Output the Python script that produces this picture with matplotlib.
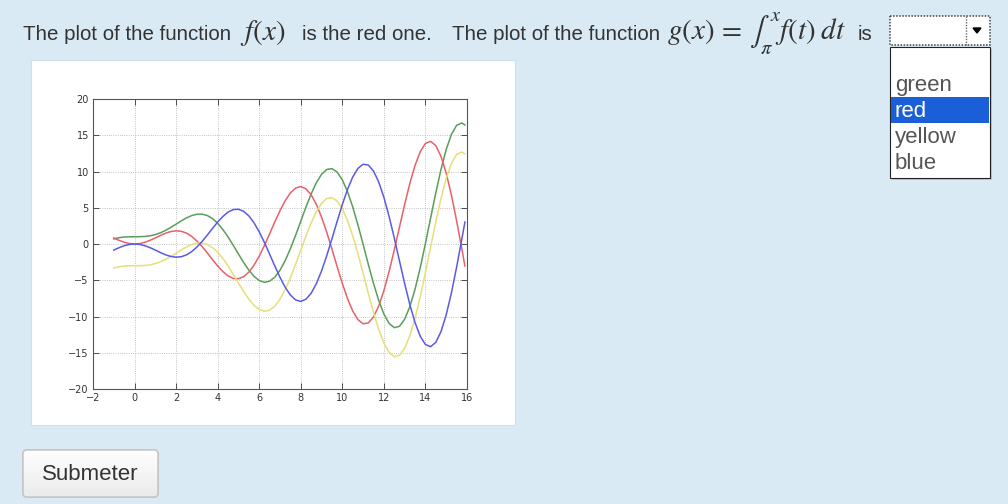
import matplotlib.pyplot as plt
from matplotlib.patches import Rectangle, FancyBboxPatch, Polygon
import numpy as np

plt.rcParams['mathtext.fontset'] = 'stix'

# valores de x
x_vals = [-1, -0.75, -0.5, -0.25, 0, 0.25, 0.5, 0.75, 1, 1.25,
          1.5, 1.75, 2, 2.25, 2.5, 2.75, 3, 3.25, 3.5, 3.75,
          4, 4.25, 4.5, 4.75, 5, 5.25, 5.5, 5.75, 6, 6.25,
          6.5, 6.75, 7, 7.25, 7.5, 7.75, 8, 8.25, 8.5, 8.75,
          9, 9.25, 9.5, 9.75, 10, 10.25, 10.5, 10.75, 11, 11.25,
          11.5, 11.75, 12, 12.25, 12.5, 12.75, 13, 13.25, 13.5, 13.75,
          14, 14.25, 14.5, 14.75, 15, 15.25, 15.5, 15.75, 15.9]

curva_roja = [0.84, 0.51, 0.24, 0.06, 0.00, 0.06, 0.24, 0.51, 0.84, 1.19,
              1.50, 1.72, 1.82, 1.75, 1.50, 1.05, 0.42, -0.35, -1.23, -2.14,
              -3.03, -3.80, -4.40, -4.75, -4.79, -4.51, -3.88, -2.92, -1.68, -0.21,
              1.40, 3.04, 4.60, 5.97, 7.04, 7.71, 7.92, 7.61, 6.79, 5.47,
              3.71, 1.61, -0.71, -3.12, -5.44, -7.53, -9.24, -10.43, -11.00, -10.89,
              -10.07, -8.56, -6.44, -3.81, -0.83, 2.33, 5.46, 8.37, 10.85, 12.73,
              13.87, 14.16, 13.56, 12.07, 9.76, 6.74, 3.20, -0.66, -3.03]

curva_verde = [0.70, 0.87, 0.96, 0.99, 1.00, 1.01, 1.04, 1.13, 1.30, 1.55,
               1.89, 2.30, 2.74, 3.19, 3.60, 3.92, 4.11, 4.12, 3.93, 3.51,
               2.86, 2.00, 0.97, -0.18, -1.38, -2.55, -3.60, -4.46, -5.04, -5.28,
               -5.13, -4.58, -3.62, -2.29, -0.66, 1.19, 3.15, 5.10, 6.92, 8.46,
               9.61, 10.28, 10.40, 9.92, 8.85, 7.22, 5.11, 2.64, -0.05, -2.80,
               -5.43, -7.78, -9.66, -10.95, -11.54, -11.35, -10.38, -8.64, -6.23, -3.27,
               0.08, 3.60, 7.08, 10.30, 13.04, 15.12, 16.37, 16.69, 16.42]

curva_amarilla = [-3.30, -3.13, -3.04, -3.01, -3.00, -2.99, -2.96, -2.87, -2.70, -2.45,
                  -2.11, -1.70, -1.26, -0.81, -0.40, -0.08, 0.11, 0.12, -0.07, -0.49,
                  -1.14, -2.00, -3.03, -4.18, -5.38, -6.55, -7.60, -8.46, -9.04, -9.28,
                  -9.13, -8.58, -7.62, -6.29, -4.66, -2.81, -0.85, 1.10, 2.92, 4.46,
                  5.61, 6.28, 6.40, 5.92, 4.85, 3.22, 1.11, -1.36, -4.05, -6.80,
                  -9.43, -11.78, -13.66, -14.95, -15.54, -15.35, -14.38, -12.64, -10.23, -7.27,
                  -3.92, -0.40, 3.08, 6.30, 9.04, 11.12, 12.37, 12.69, 12.42]

curva_azul = [-0.84, -0.51, -0.24, -0.06, 0.00, -0.06, -0.24, -0.51, -0.84, -1.19,
              -1.50, -1.72, -1.82, -1.75, -1.50, -1.05, -0.42, 0.35, 1.23, 2.14,
              3.03, 3.80, 4.40, 4.75, 4.79, 4.51, 3.88, 2.92, 1.68, 0.21,
              -1.40, -3.04, -4.60, -5.97, -7.04, -7.71, -7.92, -7.61, -6.79, -5.47,
              -3.71, -1.61, 0.71, 3.12, 5.44, 7.53, 9.24, 10.43, 11.00, 10.89,
              10.07, 8.56, 6.44, 3.81, 0.83, -2.33, -5.46, -8.37, -10.85, -12.73,
              -13.87, -14.16, -13.56, -12.07, -9.76, -6.74, -3.20, 0.66, 3.03]

opciones = ['green', 'red', 'yellow', 'blue']
xticks_vals = list(range(-2, 17, 2))
yticks_vals = list(range(-20, 21, 5))

W, H = 1008, 504
fuente = ['Liberation Sans', 'DejaVu Sans']
texto_color = '#333333'

fig = plt.figure(figsize=(W / 100, H / 100), dpi=100)
fig.patch.set_facecolor('#d9eaf5')

# capa de fondo en coordenadas de pixel (y hacia abajo)
fondo = fig.add_axes([0, 0, 1, 1], zorder=1)
fondo.set_xlim(0, W)
fondo.set_ylim(H, 0)
fondo.axis('off')

# panel blanco de la imagen
fondo.add_patch(Rectangle((31, 60), 484, 365, facecolor='white', edgecolor='#cfe0ec', lw=0.8))

# enunciado
base = 40
fondo.text(22.7, base, 'The plot of the function', fontsize=14.8, family=fuente,
           color=texto_color, va='baseline', ha='left')
fondo.text(240, base, r'$f(x)$', fontsize=21, color=texto_color, va='baseline', ha='left')
fondo.text(302, base, 'is the red one.', fontsize=14.8, family=fuente,
           color=texto_color, va='baseline', ha='left')
fondo.text(451.7, base, 'The plot of the function', fontsize=14.8, family=fuente,
           color=texto_color, va='baseline', ha='left')
fondo.text(667, base, r'$g(x)\,=\,\int_{\pi}^{x}f(t)\;dt$', fontsize=21,
           color=texto_color, va='baseline', ha='left')
fondo.text(858, base, 'is', fontsize=14.8, family=fuente,
           color=texto_color, va='baseline', ha='left')

# selector cerrado
fondo.add_patch(Rectangle((890, 16), 100, 29, facecolor='white', edgecolor='#444444',
                          lw=1.1, linestyle=(0, (1, 1))))
fondo.plot([966, 966], [16, 45], color='#666666', lw=1, linestyle=(0, (1, 1)))
fondo.add_patch(Polygon([(973, 28), (981, 28), (977, 33)], closed=True, color='black'))

# lista desplegada
fondo.add_patch(Rectangle((892, 49), 100, 131, facecolor='#000000', alpha=0.15, lw=0))
fondo.add_patch(Rectangle((890, 47), 100, 131, facecolor='white', edgecolor='#222222', lw=0.8))
fondo.add_patch(Rectangle((891, 97), 98, 26, facecolor='#1a5fd8', lw=0))
bases_lista = [91.5, 117, 143, 169]
for opcion, yb in zip(opciones, bases_lista):
    col = 'white' if opcion == 'red' else '#555555'
    fondo.text(895, yb, opcion, fontsize=16, family=fuente, color=col,
               va='baseline', ha='left')

# boton Submeter
boton = FancyBboxPatch((23, 450), 135, 47, boxstyle='round,pad=0,rounding_size=4',
                       facecolor='#f4f4f4', edgecolor='#c2c2c2', lw=1)
fondo.add_patch(boton)
grad = np.linspace(1.0, 0.92, 60).reshape(-1, 1)
grad = np.dstack([grad, grad, grad])
img = fondo.imshow(grad, extent=(23, 158, 497, 450), aspect='auto', zorder=boton.get_zorder() + 0.1)
img.set_clip_path(boton)
fondo.add_patch(FancyBboxPatch((23, 450), 135, 47, boxstyle='round,pad=0,rounding_size=4',
                               facecolor='none', edgecolor='#c2c2c2', lw=1, zorder=3))
fondo.text(90.5, 474, 'Submeter', fontsize=16, family=fuente, color=texto_color,
           va='center', ha='center', zorder=4)
fondo.set_xlim(0, W)
fondo.set_ylim(H, 0)

# grafica de las cuatro funciones
ax = fig.add_axes([93 / W, 1 - 389 / H, (467 - 93) / W, (389 - 99) / H], zorder=2)
ax.plot(x_vals, curva_verde, color='#5a9e5a', lw=1.1)
ax.plot(x_vals, curva_roja, color='#ea6068', lw=1.1)
ax.plot(x_vals, curva_amarilla, color='#e6df78', lw=1.1)
ax.plot(x_vals, curva_azul, color='#5a5ae6', lw=1.1)
ax.set_xlim(-2, 16)
ax.set_ylim(-20, 20)
ax.set_xticks(xticks_vals)
ax.set_yticks(yticks_vals)
ax.grid(True, linestyle=':', color='#b0b0b0', linewidth=0.6)
ax.tick_params(direction='in', top=True, right=True, labelsize=7, length=4,
               width=0.6, pad=3, colors='#333333')
for sp in ax.spines.values():
    sp.set_color('#555555')
    sp.set_linewidth(0.8)

fig.savefig('out.png', dpi=100, facecolor=fig.get_facecolor())
